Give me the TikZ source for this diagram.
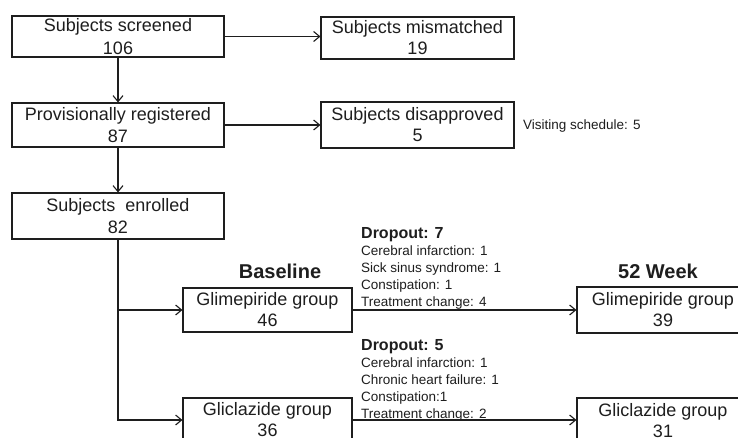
\documentclass[tikz,border=0pt]{standalone}
\usepackage{fontspec}
\setmainfont{Liberation Sans}
\usetikzlibrary{arrows.meta}
\definecolor{ink}{HTML}{1E1E1E}
\tikzset{
  box/.style={draw=ink, line width=1.1pt, rectangle, align=center, inner sep=0pt,
    font=\fontsize{18}{21}\selectfont, text=ink},
  tallbox/.style={box, font=\fontsize{18}{22.5}\selectfont},
  conn/.style={draw=ink, line width=1.1pt, -{Straight Barb[length=6pt,width=10pt]}},
  small/.style={anchor=base west, inner sep=0pt, font=\fontsize{13.5}{16}\selectfont, text=ink},
  drop/.style={anchor=base west, inner sep=0pt, font=\fontsize{16}{18}\selectfont\bfseries, text=ink},
  phase/.style={anchor=base, inner sep=0pt, font=\fontsize{20}{22}\selectfont\bfseries, text=ink}
}
\begin{document}
\begin{tikzpicture}[x=1pt,y=-1pt]
\clip (0,0) rectangle (738,438);
\fill[white] (0,0) rectangle (738,438);
% left column
\node[tallbox, minimum width=212pt, minimum height=41pt] (scr) at (118,36.5) {Subjects screened\\106};
\node[tallbox, minimum width=212pt, minimum height=44pt] (prov) at (118,125) {Provisionally registered\\87};
\node[tallbox, minimum width=212pt, minimum height=46pt] (enr) at (118,216) {Subjects\ \ enrolled\\82};
% excluded
\node[box, minimum width=193pt, minimum height=42pt] (mis) at (417.5,38) {Subjects mismatched\\19};
\node[box, minimum width=193pt, minimum height=46pt] (dis) at (417.5,125) {Subjects disapproved\\5};
\node[small] (vis) at (523,130) {Visiting schedule: 5};
% groups
\node[phase] (base) at (280,278) {Baseline};
\node[phase] (wk) at (658,278) {52 Week};
\node[box, minimum width=169pt, minimum height=44pt] (glim) at (267.5,310) {Glimepiride group\\46};
\node[box, minimum width=169pt, minimum height=44pt] (glic) at (267.5,420) {Gliclazide group\\36};
\node[box, minimum width=172pt, minimum height=46pt] (glim52) at (663,310) {Glimepiride group\\39};
\node[box, minimum width=172pt, minimum height=46pt] (glic52) at (663,421) {Gliclazide group\\31};
% dropout 7
\node[drop] (d7) at (361,238) {Dropout: 7};
\node[small] (d7a) at (361,255.5) {Cerebral infarction: 1};
\node[small] (d7b) at (361,272.5) {Sick sinus syndrome: 1};
\node[small] (d7c) at (361,289.5) {Constipation: 1};
\node[small] (d7d) at (361,306) {Treatment change: 4};
% dropout 5
\node[drop] (d5) at (361,350) {Dropout: 5};
\node[small] (d5a) at (361,367.5) {Cerebral infarction: 1};
\node[small] (d5b) at (361,384.5) {Chronic heart failure: 1};
\node[small] (d5c) at (361,401.5) {Constipation:1};
\node[small] (d5d) at (361,418) {Treatment change: 2};
% connectors
\draw[conn] (scr.east) -- (scr.east -| mis.west);
\draw[conn] (prov.east) -- (prov.east -| dis.west);
\draw[conn] (scr.south) -- (prov.north);
\draw[conn] (prov.south) -- (enr.north);
\draw[conn] (enr.south) |- (glim.west);
\draw[conn] (enr.south) |- (glic.west);
\draw[conn] (glim.east) -- (glim.east -| glim52.west);
\draw[conn] (glic.east) -- (glic.east -| glic52.west);
\end{tikzpicture}
\end{document}
